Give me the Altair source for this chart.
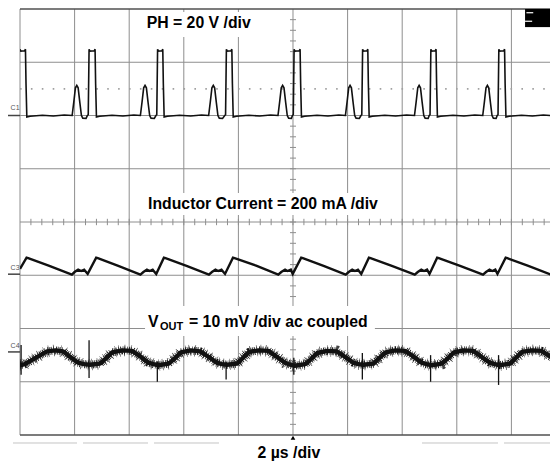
import altair as alt
import pandas as pd

# ---------------- scope set-up ----------------
T_MAX = 19.414                      # visible time span, µs (2 µs/div, right edge cut)
GRID_T = [0, 2, 4, 6, 8, 10, 12, 14, 16, 18]
GRID_Y = [1, 2, 3, 4, 5, 6, 7]
BORDER_Y = [0, 8]

PH_OFFSET, PH_PER_DIV = 6.0, 20.0     # C1: 20 V/div
IL_OFFSET, IL_PER_DIV = 3.02, 200.0   # C3: 200 mA/div
VO_OFFSET, VO_PER_DIV = 1.56, 10.0    # C4: 10 mV/div (ac)
TRIG_LEVEL_V = 10.0

# ---------------- C1 : switch node PH (µs, V) ----------------
ph_trace = [
    (0.00, 24.9), (0.03, 24.2), (0.17, 24.3), (0.20, 24.9), (0.22, 12.0),
    (0.25, -0.6), (0.37, -0.3), (0.82, 0.1), (1.22, -0.2), (1.62, 0.2),
    (1.91, 0.0), (1.97, 5.0), (2.03, 10.4), (2.08, 11.3), (2.13, 10.4), (2.19, 5.0),
    (2.25, 0.0), (2.30, -1.0), (2.42, -1.1), (2.47, 0.0), (2.50, 0.3),
    (2.53, 24.9), (2.56, 24.2), (2.72, 24.3), (2.75, 24.9), (2.77, 12.0),
    (2.80, -0.6), (2.92, -0.3), (3.37, 0.1), (3.77, -0.2), (4.17, 0.2),
    (4.41, 0.0), (4.47, 5.0), (4.53, 10.4), (4.58, 11.3), (4.63, 10.4), (4.69, 5.0),
    (4.75, 0.0), (4.80, -1.0), (4.92, -1.1), (4.98, 0.0), (5.01, 0.3),
    (5.04, 24.9), (5.07, 24.2), (5.20, 24.3), (5.23, 24.9), (5.25, 12.0),
    (5.28, -0.6), (5.40, -0.3), (5.85, 0.1), (6.25, -0.2), (6.65, 0.2),
    (6.91, 0.0), (6.97, 5.0), (7.03, 10.4), (7.08, 11.3), (7.13, 10.4), (7.19, 5.0),
    (7.25, 0.0), (7.30, -1.0), (7.42, -1.1), (7.50, 0.0), (7.53, 0.3),
    (7.56, 24.9), (7.59, 24.2), (7.73, 24.3), (7.76, 24.9), (7.78, 12.0),
    (7.81, -0.6), (7.93, -0.3), (8.38, 0.1), (8.78, -0.2), (9.18, 0.2),
    (9.45, 0.0), (9.51, 5.0), (9.57, 10.4), (9.62, 11.3), (9.67, 10.4), (9.73, 5.0),
    (9.79, 0.0), (9.84, -1.0), (9.94, -1.1), (9.98, 0.0), (10.01, 0.3),
    (10.04, 24.9), (10.07, 24.2), (10.23, 24.3), (10.26, 24.9), (10.28, 12.0),
    (10.31, -0.6), (10.43, -0.3), (10.88, 0.1), (11.28, -0.2), (11.68, 0.2),
    (11.92, 0.0), (11.98, 5.0), (12.04, 10.4), (12.09, 11.3), (12.14, 10.4), (12.20, 5.0),
    (12.26, 0.0), (12.31, -1.0), (12.43, -1.1), (12.49, 0.0), (12.52, 0.3),
    (12.55, 24.9), (12.58, 24.2), (12.71, 24.3), (12.74, 24.9), (12.76, 12.0),
    (12.79, -0.6), (12.91, -0.3), (13.36, 0.1), (13.76, -0.2), (14.16, 0.2),
    (14.45, 0.0), (14.51, 5.0), (14.57, 10.4), (14.62, 11.3), (14.67, 10.4), (14.73, 5.0),
    (14.79, 0.0), (14.84, -1.0), (14.95, -1.1), (14.99, 0.0), (15.02, 0.3),
    (15.05, 24.9), (15.08, 24.2), (15.21, 24.3), (15.24, 24.9), (15.26, 12.0),
    (15.29, -0.6), (15.41, -0.3), (15.86, 0.1), (16.26, -0.2), (16.66, 0.2),
    (16.95, 0.0), (17.01, 5.0), (17.07, 10.4), (17.12, 11.3), (17.17, 10.4), (17.23, 5.0),
    (17.29, 0.0), (17.34, -1.0), (17.44, -1.1), (17.48, 0.0), (17.51, 0.3),
    (17.54, 24.9), (17.57, 24.2), (17.72, 24.3), (17.75, 24.9), (17.77, 12.0),
    (17.80, -0.6), (17.92, -0.3), (18.37, 0.1), (18.77, -0.2), (19.17, 0.2),
    (19.45, 0.0), (19.51, 5.0), (19.57, 10.4), (19.62, 11.3), (19.67, 10.4), (19.71, 7.0),
]

# ---------------- C3 : inductor current (µs, mA about marker) ----------------
il_trace = [
    (0.00, 20), (0.24, 62), (0.30, 60), (1.05, 32), (1.90, -2), (2.00, 8),
    (2.13, 17), (2.24, 12), (2.35, 17), (2.48, 1), (2.79, 62),
    (2.85, 60), (3.60, 31), (4.41, -2), (4.52, 8), (4.65, 17), (4.75, 12),
    (4.86, 17), (4.99, 1), (5.27, 62),
    (5.33, 60), (6.10, 31), (6.92, -2), (7.03, 8), (7.16, 17), (7.26, 12),
    (7.38, 17), (7.51, 1), (7.80, 62),
    (7.86, 60), (8.65, 32), (9.46, -2), (9.57, 8), (9.71, 17), (9.80, 12),
    (9.92, 17), (9.99, 1), (10.30, 62),
    (10.36, 60), (11.12, 31), (11.93, -2), (12.04, 8), (12.17, 17), (12.27, 12),
    (12.38, 17), (12.50, 1), (12.78, 62),
    (12.84, 60), (13.62, 31), (14.46, -2), (14.57, 8), (14.70, 17), (14.80, 12),
    (14.91, 17), (15.00, 1), (15.28, 62),
    (15.34, 60), (16.12, 31), (16.96, -2), (17.07, 8), (17.20, 17), (17.30, 12),
    (17.41, 17), (17.49, 1), (17.79, 62),
    (17.85, 60), (18.62, 31), (19.46, -2), (19.57, 8), (19.71, 16),
]

# ---------------- C4 : output ripple (µs, mV) ----------------
vout_trace = [
    (0.00, -2.4), (0.10, -2.4), (0.18, -2.3), (0.45, -1.5), (0.75, -0.6),
    (0.99, 0.1), (1.30, 0.3), (1.58, 0.1), (1.85, -1.0), (2.12, -2.0),
    (2.35, -2.3), (2.55, -2.4),
    (2.93, -2.2), (3.15, -1.2), (3.37, -0.1), (3.75, 0.3), (4.10, 0.2),
    (4.40, -0.8), (4.69, -2.0), (4.90, -2.3), (5.06, -2.5),
    (5.45, -2.2), (5.67, -1.2), (5.89, -0.1), (6.25, 0.3), (6.60, 0.1),
    (6.90, -0.9), (7.20, -2.0), (7.40, -2.3), (7.58, -2.4),
    (7.95, -2.2), (8.17, -1.1), (8.39, 0.0), (8.75, 0.3), (9.10, 0.2),
    (9.40, -0.9), (9.70, -2.0), (9.90, -2.4), (10.06, -2.6),
    (10.45, -2.3), (10.67, -1.3), (10.89, -0.2), (11.25, 0.2), (11.60, 0.1),
    (11.90, -0.9), (12.20, -2.0), (12.40, -2.3), (12.57, -2.4),
    (12.95, -2.2), (13.17, -1.1), (13.39, -0.1), (13.75, 0.3), (14.10, 0.2),
    (14.40, -0.8), (14.70, -2.0), (14.90, -2.3), (15.07, -2.5),
    (15.45, -2.2), (15.67, -1.2), (15.89, -0.1), (16.25, 0.3), (16.60, 0.2),
    (16.90, -0.9), (17.20, -2.0), (17.40, -2.3), (17.56, -2.5),
    (17.95, -2.2), (18.17, -1.1), (18.39, 0.0), (18.75, 0.3), (19.10, 0.2),
    (19.40, -0.8), (19.71, -1.7),
]
# switching spikes on VOUT (µs, top mV, bottom mV)
vout_spikes = [
    (0.04, 1.3, -4.3), (2.53, 2.2, -4.9), (5.03, -1.8, -5.6), (7.55, -1.9, -5.2),
    (10.03, -1.1, -4.3), (12.54, -0.2, -5.2), (15.04, -0.6, -5.6), (17.53, -0.6, -6.2),
]

# ---------------- annotations ----------------
label_boxes = [  # t0, t1, y0, y1 (div) white backing behind the labels
    (4.51, 8.64, 7.474, 7.944),
    (4.51, 13.33, 4.131, 4.545),
    (4.58, 13.00, 1.859, 2.423),
]
big_labels = [  # text, t (left), y (baseline)
    ("PH = 20 V /div", 4.64, 7.637),
    ("Inductor Current = 200 mA /div", 4.69, 4.238),
    ("V", 4.69, 2.034),
    ("= 10 mV /div ac coupled", 6.19, 2.034),
]
sub_labels = [("OUT", 5.13, 1.972)]
time_label = [("2 µs /div", 9.85, -0.432)]
channel_labels = [("C1", -0.18, 6.14), ("C3", -0.18, 3.136), ("C4", -0.18, 1.671)]
channel_markers = [(-0.45, 0.0, PH_OFFSET), (-0.45, 0.0, IL_OFFSET), (-0.45, 0.0, VO_OFFSET)]
bottom_bars = [(-0.256, 2.088), (2.308, 4.689), (4.908, 7.289), (14.725, 17.509), (17.729, 19.414)]
status_box = [(18.5, 19.414, 7.66, 8.0)]
status_ticks = [(18.55, 18.80, 7.93), (18.50, 18.76, 7.77)]

# ---------------- data frames ----------------
ph_df = pd.DataFrame(ph_trace, columns=["t", "v"])
ph_df["y"] = PH_OFFSET + ph_df["v"] / PH_PER_DIV
il_df = pd.DataFrame(il_trace, columns=["t", "v"])
il_df["y"] = IL_OFFSET + il_df["v"] / IL_PER_DIV
vo_df = pd.DataFrame(vout_trace, columns=["t", "v"])
vo_df["y"] = VO_OFFSET + vo_df["v"] / VO_PER_DIV
sp_df = pd.DataFrame(vout_spikes, columns=["t", "hi", "lo"])
sp_df["y"] = VO_OFFSET + sp_df["hi"] / VO_PER_DIV
sp_df["y2"] = VO_OFFSET + sp_df["lo"] / VO_PER_DIV

h_ticks = pd.DataFrame({"t": [round(0.4 * k, 2) for k in range(1, 49)]})
h_ticks["y"] = 4 - 0.06
h_ticks["y2"] = 4 + 0.06
v_ticks = pd.DataFrame({"y": [round(0.2 * k, 2) for k in range(1, 40)]})
v_ticks["t"] = 10 - 0.11
v_ticks["t2"] = 10 + 0.11

PLOT_W, PLOT_H = 530, 426
xs = alt.Scale(domain=[0, T_MAX], nice=False, zero=False)
ys = alt.Scale(domain=[0, 8], nice=False, zero=False)


def X(f="t"):
    return alt.X(f"{f}:Q", scale=xs, axis=None)


def Y(f="y"):
    return alt.Y(f"{f}:Q", scale=ys, axis=None)


FONT = "Liberation Sans"
GRID_C = "#8e8e8e"
FS = 15.8

grid_v = alt.Chart(pd.DataFrame({"t": GRID_T})).mark_rule(color=GRID_C, strokeWidth=1).encode(
    x=X(), y=alt.value(0), y2=alt.value(PLOT_H))
grid_h = alt.Chart(pd.DataFrame({"y": GRID_Y})).mark_rule(color=GRID_C, strokeWidth=1).encode(
    y=Y(), x=alt.value(0), x2=alt.value(PLOT_W))
borders = alt.Chart(pd.DataFrame({"y": BORDER_Y})).mark_rule(color="#505050", strokeWidth=1.6).encode(
    y=Y(), x=alt.value(0), x2=alt.value(PLOT_W))

ht = alt.Chart(h_ticks).mark_rule(color=GRID_C, strokeWidth=1).encode(x=X(), y=Y(), y2=alt.Y2("y2:Q"))
vt = alt.Chart(v_ticks).mark_rule(color=GRID_C, strokeWidth=1).encode(x=X(), x2=alt.X2("t2:Q"), y=Y())

trig = alt.Chart(pd.DataFrame({"y": [PH_OFFSET + TRIG_LEVEL_V / PH_PER_DIV]})).mark_rule(
    color="#a0a0a0", strokeWidth=1.6, strokeDash=[1.6, 9.3]).encode(y=Y(), x=alt.value(0), x2=alt.value(PLOT_W))

boxes = alt.Chart(pd.DataFrame(label_boxes, columns=["t", "t2", "y", "y2"])).mark_rect(color="white").encode(
    x=X(), x2=alt.X2("t2:Q"), y=Y(), y2=alt.Y2("y2:Q"))

ph_line = alt.Chart(ph_df).mark_line(color="#111111", strokeWidth=1.6, clip=True).encode(
    x=X(), y=Y(), order="t:Q")
il_line = alt.Chart(il_df).mark_line(color="#111111", strokeWidth=2.4, clip=True).encode(
    x=X(), y=Y(), order="t:Q")
vo_line = alt.Chart(vo_df).mark_line(color="#111111", strokeWidth=4.4, clip=True, strokeJoin="round").encode(
    x=X(), y=Y(), order="t:Q")
vo_hair = alt.Chart(vo_df).mark_line(color="#111111", strokeWidth=8.0, clip=True,
                                     strokeDash=[0.7, 1.1, 0.9, 1.8, 0.6, 1.4, 0.9, 0.8]).encode(
    x=X(), y=Y(), order="t:Q")
vo_hair2 = alt.Chart(vo_df).mark_line(color="#111111", strokeWidth=11.5, clip=True,
                                      strokeDash=[0.6, 4.7, 0.7, 6.3, 0.5, 3.1],
                                      opacity=0.8).encode(x=X(), y=Y(), order="t:Q")
vo_spk = alt.Chart(sp_df).mark_rule(color="#111111", strokeWidth=1.3, clip=True).encode(
    x=X(), y=Y(), y2=alt.Y2("y2:Q"))

txt_big = alt.Chart(pd.DataFrame(big_labels, columns=["s", "t", "y"])).mark_text(
    font=FONT, fontWeight="bold", fontSize=FS, align="left", baseline="alphabetic", color="black").encode(
    x=X(), y=Y(), text="s:N")
txt_sub = alt.Chart(pd.DataFrame(sub_labels, columns=["s", "t", "y"])).mark_text(
    font=FONT, fontWeight="bold", fontSize=11, align="left", baseline="alphabetic", color="black").encode(
    x=X(), y=Y(), text="s:N")
txt_time = alt.Chart(pd.DataFrame(time_label, columns=["s", "t", "y"])).mark_text(
    font=FONT, fontWeight="bold", fontSize=FS, align="center", baseline="alphabetic", color="black").encode(
    x=X(), y=Y(), text="s:N")
txt_ch = alt.Chart(pd.DataFrame(channel_labels, columns=["s", "t", "y"])).mark_text(
    font=FONT, fontSize=7, align="center", baseline="middle", color="#555555").encode(
    x=X(), y=Y(), text="s:N")
ch_mark = alt.Chart(pd.DataFrame(channel_markers, columns=["t", "t2", "y"])).mark_rule(
    color="#444444", strokeWidth=1.5).encode(x=X(), x2=alt.X2("t2:Q"), y=Y())

bars = alt.Chart(pd.DataFrame(bottom_bars, columns=["t", "t2"]).assign(y=-0.15)).mark_rule(
    color="#c4c4c4", strokeWidth=1).encode(x=X(), x2=alt.X2("t2:Q"), y=Y())
trig_pos = alt.Chart(pd.DataFrame({"t": [10.0], "y": [-0.05]})).mark_point(
    shape="triangle-up", filled=True, size=22, color="black", opacity=1).encode(x=X(), y=Y())
status = alt.Chart(pd.DataFrame(status_box, columns=["t", "t2", "y", "y2"])).mark_rect(color="black").encode(
    x=X(), x2=alt.X2("t2:Q"), y=Y(), y2=alt.Y2("y2:Q"))
status_w = alt.Chart(pd.DataFrame(status_ticks, columns=["t", "t2", "y"])).mark_rule(
    color="white", strokeWidth=1.2).encode(x=X(), x2=alt.X2("t2:Q"), y=Y())

chart = alt.layer(
    grid_v, grid_h, ht, vt, borders, trig, boxes, ph_line, il_line, vo_hair2, vo_hair, vo_line, vo_spk,
    txt_big, txt_sub, txt_time, txt_ch, ch_mark, bars, trig_pos, status, status_w,
).properties(
    width=PLOT_W, height=PLOT_H,
    padding={"left": 12, "top": 1, "right": 0, "bottom": 26},
    autosize=alt.AutoSizeParams(type="none"),
    background="white",
).configure_view(stroke=None)

chart.save("out.html", embed_options={"renderer": "svg", "actions": False})
